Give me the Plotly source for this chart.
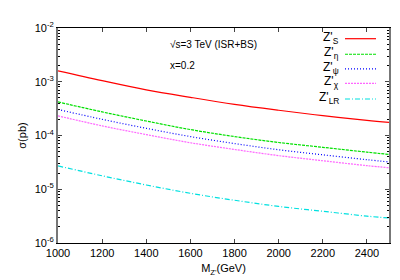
import plotly.graph_objects as go

mass = [1000, 1200, 1400, 1600, 1800, 2000, 2200, 2400, 2500]
sig_S = [1.60e-3, 1.05e-3, 7.08e-4, 5.13e-4, 3.80e-4, 2.95e-4, 2.34e-4, 1.91e-4, 1.75e-4]
sig_eta = [4.21e-4, 2.75e-4, 1.86e-4, 1.29e-4, 9.55e-5, 7.41e-5, 6.03e-5, 4.90e-5, 4.44e-5]
sig_psi = [3.05e-4, 2.00e-4, 1.36e-4, 9.55e-5, 7.08e-5, 5.43e-5, 4.37e-5, 3.55e-5, 3.22e-5]
sig_chi = [2.32e-4, 1.51e-4, 1.04e-4, 7.33e-5, 5.50e-5, 4.22e-5, 3.39e-5, 2.75e-5, 2.51e-5]
sig_LR = [2.72e-5, 1.78e-5, 1.20e-5, 8.41e-6, 6.24e-6, 4.79e-6, 3.89e-6, 3.16e-6, 2.92e-6]

names = ["Z'<sub>S</sub>", "Z'<sub>η</sub>", "Z'<sub>ψ</sub>", "Z'<sub>χ</sub>", "Z'<sub>LR</sub>"]
series = [sig_S, sig_eta, sig_psi, sig_chi, sig_LR]
colors = ["#ff0000", "#00e000", "#0000ff", "#ff66ff", "#00e0e0"]
dashes = ["solid", "3px,1px", "1px,2px", "2px,1px", "5px,2px,1px,2px"]

x_ticks = [1000, 1200, 1400, 1600, 1800, 2000, 2200, 2400]
y_ticks = [1e-6, 1e-5, 1e-4, 1e-3, 1e-2]
y_ticktext = ["10<sup>-6</sup>", "10<sup>-5</sup>", "10<sup>-4</sup>", "10<sup>-3</sup>", "10<sup>-2</sup>"]
y_minor = [m * 10.0 ** e for e in range(-6, -2) for m in range(2, 10)]

FONT = "Liberation Sans, Arial, sans-serif"

fig = go.Figure()
for nm, ys, c, d in zip(names, series, colors, dashes):
    fig.add_trace(go.Scatter(x=mass, y=ys, mode="lines", name=nm,
                             line=dict(color=c, width=1.2, dash=d, shape="spline"),
                             showlegend=False))

# gnuplot-style legend (text right-aligned, sample on the right)
L, R, T, B = 50, 381, 14, 235
W, H = 400, 280
def px(x): return (x - L) / (R - L)
def py(y): return (B - y) / (B - T)

leg_y = [24, 40, 55, 70, 86]
for nm, c, d, yy in zip(names, colors, dashes, leg_y):
    fig.add_annotation(x=px(333), y=py(yy), xref="paper", yref="paper", text=nm,
                       showarrow=False, xanchor="right", yanchor="middle",
                       font=dict(family=FONT, size=12, color="black"))
    fig.add_shape(type="line", xref="paper", yref="paper",
                  x0=px(337), x1=px(368), y0=py(yy + 1), y1=py(yy + 1),
                  line=dict(color=c, width=1.2, dash=d))

fig.add_annotation(x=px(160), y=py(31), xref="paper", yref="paper",
                   text="√s=3 TeV (ISR+BS)", showarrow=False, xanchor="left", yanchor="middle",
                   font=dict(family=FONT, size=10, color="black"))
fig.add_annotation(x=px(160), y=py(53), xref="paper", yref="paper",
                   text="x=0.2", showarrow=False, xanchor="left", yanchor="middle",
                   font=dict(family=FONT, size=10, color="black"))

fig.update_layout(
    width=W, height=H,
    margin=dict(l=L, r=W - R, t=T, b=H - B),
    paper_bgcolor="white", plot_bgcolor="white",
    font=dict(family=FONT, size=11, color="black"),
    xaxis=dict(range=[1000, 2500], tickvals=x_ticks, ticks="inside", ticklen=4,
               showline=True, linecolor="black", linewidth=1, mirror="allticks",
               showgrid=False, zeroline=False,
               title=dict(text="M<sub>Z'</sub>(GeV)", standoff=6, font=dict(size=11)),
               tickfont=dict(size=11)),
    yaxis=dict(type="log", range=[-6, -2], tickvals=y_ticks, ticktext=y_ticktext,
               ticks="inside", ticklen=4,
               minor=dict(tickvals=y_minor, ticks="inside", ticklen=2,
                          tickcolor="black", showgrid=False),
               showline=True, linecolor="#777777", linewidth=2, mirror="allticks",
               showgrid=False, zeroline=False,
               title=dict(text="σ(pb)", standoff=6, font=dict(size=11)),
               tickfont=dict(size=11)),
)

fig.write_html("out.html")
